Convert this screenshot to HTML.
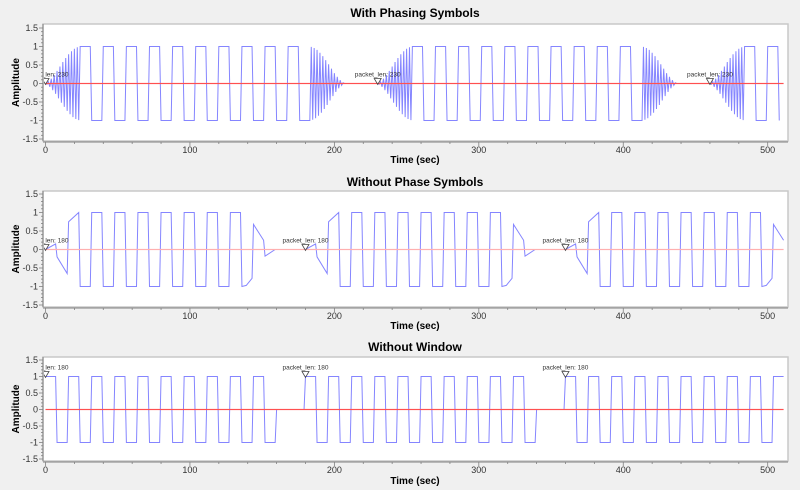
<!DOCTYPE html>
<html><head><meta charset="utf-8">
<style>
body{margin:0;background:#f0f0f0;}
svg{display:block;font-family:"Liberation Sans",sans-serif;}
</style></head>
<body>
<svg id="chart" width="800" height="490" viewBox="0 0 800 490">
<rect x="0" y="0" width="800" height="490" fill="#f0f0f0"/>
</svg>
<script>
// ---- data ----
const xTicks = [0,100,200,300,400,500];
const yTicks = [1.5,1,0.5,0,-0.5,-1,-1.5];
const plotTitles = ["With Phasing Symbols","Without Phase Symbols","Without Window"];
// plot 1: packet of 230 samples
const p1PacketLen = 230;
const p1RampUp = [0,0.02,0.05,0.09,0.13,0.18,0.23,0.28,0.34,0.40,0.46,0.52,0.58,0.63,0.69,0.74,0.79,0.83,0.87,0.91,0.94,0.96,0.98,0.99];
const p1Symbols = [1,-1,1,-1,1,-1,1,-1,1,-1,1,-1,1,-1,1,-1,1,-1,1,-1];
const p1RampDown = [0.99,0.98,0.96,0.94,0.91,0.87,0.83,0.79,0.74,0.69,0.63,0.58,0.52,0.46,0.40,0.34,0.28,0.23,0.18,0.13,0.09,0.05,0.02,0];
const p1TagTimes = [0,230,460];
const p1TagLabels = ["packet_len: 230","packet_len: 230","packet_len: 230"];
// plot 2: packet of 180 samples
const p2PacketLen = 180;
const p2HeadT = [0,7,8,15,16,23];
const p2HeadV = [0,0.15,-0.2,-0.65,0.75,1];
const p2Symbols = [-1,1,-1,1,-1,1,-1,1,-1,1,-1,1,-1,1];
const p2TailT = [136,139,143,144,151,152,159,179];
const p2TailV = [-1,-0.97,-0.78,0.68,0.25,-0.18,0,0];
const p2TagTimes = [0,180,360];
const p2TagLabels = ["packet_len: 180","packet_len: 180","packet_len: 180"];
// plot 3: packet of 180 samples
const p3PacketLen = 180;
const p3Symbols = [1,-1,1,-1,1,-1,1,-1,1,-1,1,-1,1,-1,1,-1,1,-1,1,-1];
const p3TagTimes = [0,180,360];
const p3TagLabels = ["packet_len: 180","packet_len: 180","packet_len: 180"];
const tMax = 511;

// ---- build sample paths ----
function symbolPts(start, syms){const pts=[];syms.forEach((v,k)=>{pts.push([start+8*k,v]);pts.push([start+8*k+7,v]);});return pts;}
function packet1(){let pts=[];p1RampUp.forEach((e,i)=>pts.push([i,(i%2?-1:1)*e]));pts=pts.concat(symbolPts(24,p1Symbols));
 p1RampDown.forEach((e,i)=>pts.push([184+i,(i%2?-1:1)*e]));pts.push([p1PacketLen-1,0]);return pts;}
function packet2(){let pts=p2HeadT.map((t,i)=>[t,p2HeadV[i]]);pts=pts.concat(symbolPts(24,p2Symbols));
 p2TailT.forEach((t,i)=>pts.push([t,p2TailV[i]]));return pts;}
function packet3(){let pts=symbolPts(0,p3Symbols);pts.push([160,0]);pts.push([p3PacketLen-1,0]);return pts;}
function repeat(pk,len){let out=[];for(let s=0;s<tMax+len;s+=len){pk.forEach(p=>{if(s+p[0]<=tMax)out.push([s+p[0],p[1]]);});}return out;}

const plots=[
 {top:24,bot:141,y15:28,ym15:139,titleY:17,lblY:153,axY:163,pts:repeat(packet1(),p1PacketLen),tags:p1TagTimes,tagL:p1TagLabels,tagV:0},
 {top:191,bot:307,y15:194,ym15:305,titleY:186,lblY:319,axY:329,pts:repeat(packet2(),p2PacketLen),tags:p2TagTimes,tagL:p2TagLabels,tagV:0},
 {top:357,bot:461,y15:360,ym15:459,titleY:351,lblY:473,axY:484,pts:repeat(packet3(),p3PacketLen),tags:p3TagTimes,tagL:p3TagLabels,tagV:1}
];
const L=43,R=788,x0=45.5,xs=1.4444;
const X=t=>x0+t*xs;
const NS="http://www.w3.org/2000/svg";
const svg=document.getElementById('chart');
function mk(tag,attrs,parent){const e=document.createElementNS(NS,tag);for(const k in attrs)e.setAttribute(k,attrs[k]);(parent||svg).appendChild(e);return e;}

plots.forEach((p,pi)=>{
 const Y=v=>p.y15+(1.5-v)*(p.ym15-p.y15)/3;
 const g=mk('g',{});
 
 
 const t=mk('text',{x:415,y:p.titleY,'text-anchor':'middle','font-size':12,'font-weight':'bold',fill:'#000'},g);
 t.textContent=plotTitles[pi];
 
 
 const fr=mk('rect',{x:L,y:p.top,width:R-L,height:p.bot-p.top,fill:'#fff',stroke:'#c8c8c8','stroke-width':1.5},g);
 
 
 // y axis
 const ya=mk('g',{},g);
 
 
 mk('line',{x1:L,y1:p.top,x2:L,y2:p.bot,stroke:'#808080'},ya);
 for(let v=-1.5;v<=1.501;v+=0.1){const y=Y(v);const maj=Math.abs(v*2-Math.round(v*2))<1e-6;mk('line',{x1:L-(maj?4:2),y1:y,x2:L,y2:y,stroke:'#808080','stroke-width':0.8},ya);}
 yTicks.forEach(v=>{const tt=mk('text',{x:L-5,y:Y(v)+3,'text-anchor':'end','font-size':9,fill:'#333'},ya);tt.textContent=String(v);
  
  });
 const yt=mk('text',{x:0,y:0,'text-anchor':'middle','font-size':10,'font-weight':'bold',transform:`translate(19,${(p.top+p.bot)/2}) rotate(-90)`},g);
 yt.textContent='Amplitude';
 
 
 // x axis
 const xa=mk('g',{},g);
 
 
 mk('line',{x1:L,y1:p.bot+1,x2:R,y2:p.bot+1,stroke:'#808080'},xa);
 for(let v=0;v<=tMax;v+=20){const x=X(v);const maj=v%100===0;mk('line',{x1:x,y1:p.bot+1,x2:x,y2:p.bot+(maj?5:3),stroke:'#808080','stroke-width':0.8},xa);}
 xTicks.forEach(v=>{const tt=mk('text',{x:X(v),y:p.lblY,'text-anchor':'middle','font-size':9,fill:'#333'},xa);tt.textContent=String(v);
  
  });
 const xt=mk('text',{x:415,y:p.axY,'text-anchor':'middle','font-size':10,'font-weight':'bold'},g);
 xt.textContent='Time (sec)';
 
 
 // clip
 const cp=mk('clipPath',{id:'clip'+pi},g);
 mk('rect',{x:L+1,y:p.top,width:R-L-1,height:p.bot-p.top},cp);
 const cg=mk('g',{'clip-path':`url(#clip${pi})`},g);
 const d=p.pts.map((q,i)=>(i?'L':'M')+X(q[0]).toFixed(2)+' '+Y(q[1]).toFixed(2)).join(' ');
 const real=mk('path',{d:d,fill:'none',stroke:'#8585ff','stroke-width':1},cg);
 
 
 const imag=mk('rect',{x:X(0),y:Y(0)-0.6,width:X(tMax)-X(0),height:1.2,fill:pi==1?'#ffb0b0':'#ff5050'},cg);
 
 
 p.tags.forEach((tt,i)=>{
  const x=X(tt),y=Y(p.tagV);
  const tg=mk('g',{},cg);
  
  
  mk('path',{d:`M${x-3.5} ${y-5} L${x+3.5} ${y-5} L${x} ${y+1} Z`,fill:'none',stroke:'#444','stroke-width':0.8},tg);
  const lb=mk('text',{x:x,y:y-7,'text-anchor':'middle','font-size':6.5,fill:'#333'},tg);
  lb.textContent=p.tagL[i];
 });
});
</script>
</body></html>
